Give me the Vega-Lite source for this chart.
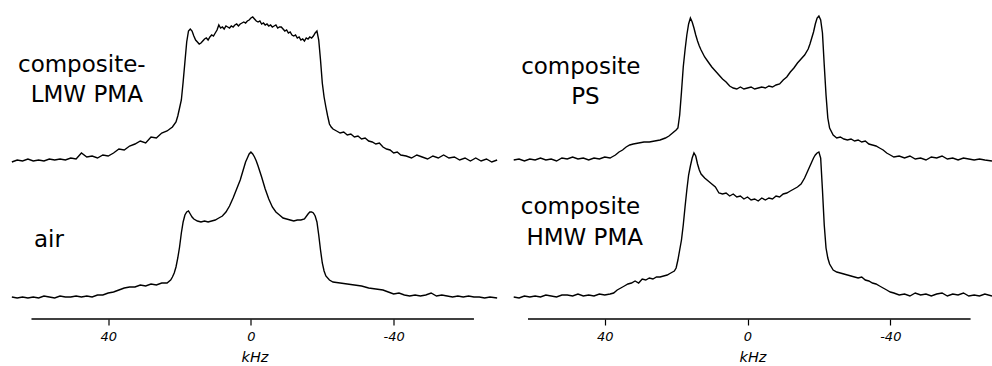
{
  "$schema": "https://vega.github.io/schema/vega-lite/v6.json",
  "padding": {"left": 8.5, "top": 0, "right": 0, "bottom": 0},
  "spacing": 9.5,
  "config": {
    "view": {"stroke": null},
    "axis": {
      "domain": false, "grid": false,
      "labelFont": "DejaVu Sans", "labelFontStyle": "italic", "labelFontSize": 13, "labelColor": "black",
      "labelPadding": 5, "tickColor": "black", "tickSize": 6, "tickWidth": 1.2,
      "titleFont": "DejaVu Sans", "titleFontStyle": "italic", "titleFontWeight": "normal", "titleFontSize": 14.5,
      "titleColor": "black", "titlePadding": 7
    }
  },
  "datasets": {
    "LT": [
      {"kHz":67,"intensity":157},{"kHz":65.5,"intensity":159},{"kHz":64,"intensity":158},{"kHz":62.5,"intensity":160},{"kHz":61,"intensity":158},{"kHz":59.5,"intensity":159},{"kHz":58,"intensity":158},{"kHz":56.5,"intensity":160},{"kHz":55,"intensity":159},{"kHz":53.5,"intensity":160},{"kHz":52,"intensity":159},{"kHz":50.5,"intensity":161},{"kHz":49,"intensity":160},{"kHz":47.5,"intensity":166},{"kHz":46,"intensity":162},{"kHz":44.5,"intensity":163},{"kHz":43,"intensity":161},{"kHz":41.5,"intensity":164},{"kHz":40,"intensity":163},{"kHz":38.5,"intensity":166},{"kHz":37,"intensity":170},{"kHz":35.5,"intensity":169},{"kHz":34,"intensity":173},{"kHz":32.5,"intensity":175},{"kHz":31,"intensity":178},{"kHz":29.5,"intensity":176},{"kHz":28,"intensity":182},{"kHz":26.5,"intensity":181},{"kHz":25,"intensity":186},{"kHz":23.5,"intensity":188},{"kHz":22,"intensity":192},{"kHz":21,"intensity":197},{"kHz":20.5,"intensity":203},{"kHz":20,"intensity":211},{"kHz":19.5,"intensity":219},{"kHz":19,"intensity":237},{"kHz":18.5,"intensity":257},{"kHz":18,"intensity":277},{"kHz":17.5,"intensity":288},{"kHz":17,"intensity":290},{"kHz":16.5,"intensity":288},{"kHz":16,"intensity":283},{"kHz":15.5,"intensity":279},{"kHz":15,"intensity":277},{"kHz":14.5,"intensity":275},{"kHz":14,"intensity":276},{"kHz":13.5,"intensity":278},{"kHz":13,"intensity":280},{"kHz":12.5,"intensity":281},{"kHz":12,"intensity":279},{"kHz":11.5,"intensity":282},{"kHz":11,"intensity":284},{"kHz":10.5,"intensity":283},{"kHz":10,"intensity":286},{"kHz":9.5,"intensity":289},{"kHz":9,"intensity":294},{"kHz":8.5,"intensity":291},{"kHz":8,"intensity":292},{"kHz":7.5,"intensity":290},{"kHz":7,"intensity":293},{"kHz":6.5,"intensity":292},{"kHz":6,"intensity":291},{"kHz":5.5,"intensity":293},{"kHz":5,"intensity":292},{"kHz":4.5,"intensity":294},{"kHz":4,"intensity":295},{"kHz":3.5,"intensity":293},{"kHz":3,"intensity":295},{"kHz":2.5,"intensity":296},{"kHz":2,"intensity":297},{"kHz":1.5,"intensity":296},{"kHz":1,"intensity":298},{"kHz":0.5,"intensity":299},{"kHz":0,"intensity":301},{"kHz":-0.5,"intensity":302},{"kHz":-1,"intensity":300},{"kHz":-1.5,"intensity":298},{"kHz":-2,"intensity":297},{"kHz":-2.5,"intensity":298},{"kHz":-3,"intensity":295},{"kHz":-3.5,"intensity":296},{"kHz":-4,"intensity":294},{"kHz":-4.5,"intensity":295},{"kHz":-5,"intensity":293},{"kHz":-5.5,"intensity":294},{"kHz":-6,"intensity":292},{"kHz":-6.5,"intensity":293},{"kHz":-7,"intensity":294},{"kHz":-7.5,"intensity":291},{"kHz":-8,"intensity":292},{"kHz":-8.5,"intensity":292},{"kHz":-9,"intensity":290},{"kHz":-9.5,"intensity":288},{"kHz":-10,"intensity":289},{"kHz":-10.5,"intensity":286},{"kHz":-11,"intensity":287},{"kHz":-11.5,"intensity":284},{"kHz":-12,"intensity":283},{"kHz":-12.5,"intensity":284},{"kHz":-13,"intensity":281},{"kHz":-13.5,"intensity":282},{"kHz":-14,"intensity":279},{"kHz":-14.5,"intensity":280},{"kHz":-15,"intensity":278},{"kHz":-15.5,"intensity":281},{"kHz":-16,"intensity":280},{"kHz":-16.5,"intensity":282},{"kHz":-17,"intensity":281},{"kHz":-17.5,"intensity":283},{"kHz":-18,"intensity":286},{"kHz":-18.5,"intensity":288},{"kHz":-19,"intensity":279},{"kHz":-19.5,"intensity":259},{"kHz":-20,"intensity":236},{"kHz":-20.5,"intensity":222},{"kHz":-21,"intensity":212},{"kHz":-21.5,"intensity":203},{"kHz":-22,"intensity":195},{"kHz":-22.5,"intensity":192},{"kHz":-23,"intensity":190},{"kHz":-24,"intensity":188},{"kHz":-25,"intensity":186},{"kHz":-26,"intensity":187},{"kHz":-27,"intensity":184},{"kHz":-28,"intensity":185},{"kHz":-29,"intensity":182},{"kHz":-30,"intensity":183},{"kHz":-31,"intensity":180},{"kHz":-32,"intensity":181},{"kHz":-33,"intensity":178},{"kHz":-34,"intensity":177},{"kHz":-35,"intensity":175},{"kHz":-36,"intensity":176},{"kHz":-37,"intensity":172},{"kHz":-38,"intensity":170},{"kHz":-39,"intensity":169},{"kHz":-40,"intensity":166},{"kHz":-41,"intensity":167},{"kHz":-42,"intensity":164},{"kHz":-43.5,"intensity":163},{"kHz":-45,"intensity":161},{"kHz":-46.5,"intensity":164},{"kHz":-48,"intensity":162},{"kHz":-49.5,"intensity":160},{"kHz":-51,"intensity":163},{"kHz":-52.5,"intensity":161},{"kHz":-54,"intensity":164},{"kHz":-55.5,"intensity":161},{"kHz":-57,"intensity":162},{"kHz":-58.5,"intensity":159},{"kHz":-60,"intensity":161},{"kHz":-61.5,"intensity":158},{"kHz":-63,"intensity":161},{"kHz":-64.5,"intensity":158},{"kHz":-66,"intensity":160},{"kHz":-67.5,"intensity":157},{"kHz":-69,"intensity":159}
    ],
    "LB": [
      {"kHz":67,"intensity":22},{"kHz":65.5,"intensity":21},{"kHz":64,"intensity":22},{"kHz":62.5,"intensity":21},{"kHz":61,"intensity":22},{"kHz":59.5,"intensity":21},{"kHz":58,"intensity":23},{"kHz":56.5,"intensity":22},{"kHz":55,"intensity":21},{"kHz":53.5,"intensity":23},{"kHz":52,"intensity":22},{"kHz":50.5,"intensity":22},{"kHz":49,"intensity":23},{"kHz":47.5,"intensity":22},{"kHz":46,"intensity":23},{"kHz":44.5,"intensity":22},{"kHz":43,"intensity":24},{"kHz":41.5,"intensity":24},{"kHz":40,"intensity":26},{"kHz":38.5,"intensity":27},{"kHz":37,"intensity":29},{"kHz":35.5,"intensity":31},{"kHz":34,"intensity":32},{"kHz":32.5,"intensity":32},{"kHz":31,"intensity":34},{"kHz":29.5,"intensity":33},{"kHz":28,"intensity":35},{"kHz":26.5,"intensity":34},{"kHz":25,"intensity":36},{"kHz":23.5,"intensity":36},{"kHz":22.5,"intensity":39},{"kHz":22,"intensity":42},{"kHz":21.5,"intensity":46},{"kHz":21,"intensity":52},{"kHz":20.5,"intensity":61},{"kHz":20,"intensity":72},{"kHz":19.5,"intensity":86},{"kHz":19,"intensity":97},{"kHz":18.5,"intensity":104},{"kHz":18,"intensity":107},{"kHz":17.5,"intensity":108},{"kHz":17,"intensity":105},{"kHz":16.5,"intensity":102},{"kHz":16,"intensity":100},{"kHz":15,"intensity":98},{"kHz":14,"intensity":97},{"kHz":13,"intensity":98},{"kHz":12,"intensity":97},{"kHz":11,"intensity":98},{"kHz":10,"intensity":99},{"kHz":9,"intensity":101},{"kHz":8,"intensity":103},{"kHz":7,"intensity":107},{"kHz":6,"intensity":113},{"kHz":5,"intensity":121},{"kHz":4,"intensity":130},{"kHz":3,"intensity":139},{"kHz":2,"intensity":151},{"kHz":1.5,"intensity":157},{"kHz":1,"intensity":161},{"kHz":0.5,"intensity":165},{"kHz":0,"intensity":167},{"kHz":-0.5,"intensity":165},{"kHz":-1,"intensity":162},{"kHz":-1.5,"intensity":158},{"kHz":-2,"intensity":153},{"kHz":-3,"intensity":142},{"kHz":-4,"intensity":130},{"kHz":-5,"intensity":120},{"kHz":-6,"intensity":112},{"kHz":-7,"intensity":107},{"kHz":-8,"intensity":104},{"kHz":-9,"intensity":101},{"kHz":-10,"intensity":100},{"kHz":-11,"intensity":99},{"kHz":-12,"intensity":98},{"kHz":-13,"intensity":99},{"kHz":-14,"intensity":99},{"kHz":-15,"intensity":100},{"kHz":-16,"intensity":105},{"kHz":-16.5,"intensity":107},{"kHz":-17,"intensity":107},{"kHz":-17.5,"intensity":106},{"kHz":-18,"intensity":103},{"kHz":-18.5,"intensity":97},{"kHz":-19,"intensity":84},{"kHz":-19.5,"intensity":69},{"kHz":-20,"intensity":56},{"kHz":-20.5,"intensity":48},{"kHz":-21,"intensity":43},{"kHz":-22,"intensity":39},{"kHz":-23,"intensity":37},{"kHz":-25,"intensity":36},{"kHz":-27,"intensity":35},{"kHz":-29,"intensity":34},{"kHz":-31,"intensity":33},{"kHz":-33,"intensity":31},{"kHz":-35,"intensity":30},{"kHz":-37,"intensity":29},{"kHz":-38.5,"intensity":27},{"kHz":-40,"intensity":25},{"kHz":-41.5,"intensity":26},{"kHz":-43,"intensity":24},{"kHz":-44.5,"intensity":23},{"kHz":-46,"intensity":24},{"kHz":-47.5,"intensity":23},{"kHz":-49,"intensity":24},{"kHz":-50.5,"intensity":26},{"kHz":-52,"intensity":23},{"kHz":-53.5,"intensity":24},{"kHz":-55,"intensity":23},{"kHz":-56.5,"intensity":22},{"kHz":-58,"intensity":23},{"kHz":-59.5,"intensity":22},{"kHz":-61,"intensity":23},{"kHz":-62.5,"intensity":22},{"kHz":-64,"intensity":22},{"kHz":-65.5,"intensity":21},{"kHz":-67,"intensity":22},{"kHz":-69,"intensity":21}
    ],
    "RT": [
      {"kHz":65.5,"intensity":159},{"kHz":64,"intensity":160},{"kHz":62.5,"intensity":158},{"kHz":61,"intensity":160},{"kHz":59.5,"intensity":159},{"kHz":58,"intensity":161},{"kHz":56.5,"intensity":159},{"kHz":55,"intensity":160},{"kHz":53.5,"intensity":158},{"kHz":52,"intensity":161},{"kHz":50.5,"intensity":160},{"kHz":49,"intensity":162},{"kHz":47.5,"intensity":160},{"kHz":46,"intensity":161},{"kHz":44.5,"intensity":159},{"kHz":43,"intensity":161},{"kHz":41.5,"intensity":160},{"kHz":40,"intensity":162},{"kHz":38.5,"intensity":161},{"kHz":38,"intensity":162},{"kHz":37,"intensity":164},{"kHz":36,"intensity":167},{"kHz":35,"intensity":169},{"kHz":34,"intensity":172},{"kHz":33,"intensity":174},{"kHz":32,"intensity":175},{"kHz":30.5,"intensity":176},{"kHz":29,"intensity":177},{"kHz":27.5,"intensity":177},{"kHz":26,"intensity":178},{"kHz":24.5,"intensity":179},{"kHz":23,"intensity":181},{"kHz":22,"intensity":183},{"kHz":21,"intensity":186},{"kHz":20,"intensity":189},{"kHz":19.5,"intensity":191},{"kHz":19,"intensity":204},{"kHz":18.5,"intensity":227},{"kHz":18,"intensity":252},{"kHz":17.5,"intensity":269},{"kHz":17,"intensity":284},{"kHz":16.5,"intensity":295},{"kHz":16,"intensity":301},{"kHz":15.5,"intensity":297},{"kHz":15,"intensity":291},{"kHz":14.5,"intensity":284},{"kHz":14,"intensity":278},{"kHz":13.5,"intensity":273},{"kHz":13,"intensity":269},{"kHz":12,"intensity":262},{"kHz":11,"intensity":257},{"kHz":10,"intensity":252},{"kHz":9,"intensity":248},{"kHz":8,"intensity":244},{"kHz":7,"intensity":240},{"kHz":6,"intensity":237},{"kHz":5,"intensity":233},{"kHz":4,"intensity":231},{"kHz":3,"intensity":230},{"kHz":2,"intensity":232},{"kHz":1,"intensity":230},{"kHz":0,"intensity":231},{"kHz":-1,"intensity":232},{"kHz":-2,"intensity":230},{"kHz":-3,"intensity":231},{"kHz":-4,"intensity":232},{"kHz":-5,"intensity":231},{"kHz":-6,"intensity":233},{"kHz":-7,"intensity":232},{"kHz":-8,"intensity":234},{"kHz":-9,"intensity":235},{"kHz":-10,"intensity":239},{"kHz":-11,"intensity":242},{"kHz":-12,"intensity":247},{"kHz":-13,"intensity":251},{"kHz":-14,"intensity":256},{"kHz":-15,"intensity":260},{"kHz":-16,"intensity":264},{"kHz":-17,"intensity":270},{"kHz":-17.5,"intensity":275},{"kHz":-18,"intensity":281},{"kHz":-18.5,"intensity":287},{"kHz":-19,"intensity":295},{"kHz":-19.5,"intensity":301},{"kHz":-20,"intensity":303},{"kHz":-20.5,"intensity":299},{"kHz":-21,"intensity":286},{"kHz":-21.5,"intensity":254},{"kHz":-22,"intensity":224},{"kHz":-22.5,"intensity":201},{"kHz":-23,"intensity":191},{"kHz":-24,"intensity":184},{"kHz":-25,"intensity":181},{"kHz":-26,"intensity":182},{"kHz":-27,"intensity":180},{"kHz":-28,"intensity":179},{"kHz":-29,"intensity":180},{"kHz":-30,"intensity":178},{"kHz":-31,"intensity":179},{"kHz":-32,"intensity":177},{"kHz":-33,"intensity":178},{"kHz":-34,"intensity":175},{"kHz":-35,"intensity":174},{"kHz":-36,"intensity":173},{"kHz":-37,"intensity":171},{"kHz":-38,"intensity":169},{"kHz":-39,"intensity":166},{"kHz":-40,"intensity":164},{"kHz":-41,"intensity":162},{"kHz":-42.5,"intensity":163},{"kHz":-44,"intensity":161},{"kHz":-45.5,"intensity":163},{"kHz":-47,"intensity":160},{"kHz":-48.5,"intensity":161},{"kHz":-50,"intensity":159},{"kHz":-51.5,"intensity":162},{"kHz":-53,"intensity":161},{"kHz":-54.5,"intensity":163},{"kHz":-56,"intensity":160},{"kHz":-57.5,"intensity":161},{"kHz":-59,"intensity":159},{"kHz":-60.5,"intensity":161},{"kHz":-62,"intensity":160},{"kHz":-63.5,"intensity":159},{"kHz":-65,"intensity":160},{"kHz":-66.5,"intensity":159},{"kHz":-68.5,"intensity":158}
    ],
    "RB": [
      {"kHz":65.5,"intensity":22},{"kHz":64,"intensity":21},{"kHz":62.5,"intensity":23},{"kHz":61,"intensity":22},{"kHz":59.5,"intensity":23},{"kHz":58,"intensity":22},{"kHz":56.5,"intensity":24},{"kHz":55,"intensity":23},{"kHz":53.5,"intensity":22},{"kHz":52,"intensity":24},{"kHz":50.5,"intensity":24},{"kHz":49,"intensity":23},{"kHz":47.5,"intensity":25},{"kHz":46,"intensity":23},{"kHz":44.5,"intensity":24},{"kHz":43,"intensity":23},{"kHz":41.5,"intensity":25},{"kHz":40,"intensity":24},{"kHz":38.5,"intensity":25},{"kHz":37.5,"intensity":26},{"kHz":36.5,"intensity":29},{"kHz":35.5,"intensity":31},{"kHz":34.5,"intensity":33},{"kHz":33.5,"intensity":35},{"kHz":32.5,"intensity":36},{"kHz":31.5,"intensity":38},{"kHz":30.5,"intensity":36},{"kHz":29.5,"intensity":40},{"kHz":28.5,"intensity":39},{"kHz":27.5,"intensity":41},{"kHz":26.5,"intensity":40},{"kHz":25.5,"intensity":42},{"kHz":24.5,"intensity":42},{"kHz":23.5,"intensity":43},{"kHz":22.5,"intensity":44},{"kHz":21.5,"intensity":46},{"kHz":20.5,"intensity":48},{"kHz":20,"intensity":51},{"kHz":19.5,"intensity":59},{"kHz":19,"intensity":69},{"kHz":18.5,"intensity":79},{"kHz":18,"intensity":94},{"kHz":17.5,"intensity":112},{"kHz":17,"intensity":129},{"kHz":16.5,"intensity":144},{"kHz":16,"intensity":153},{"kHz":15.5,"intensity":161},{"kHz":15,"intensity":166},{"kHz":14.5,"intensity":163},{"kHz":14,"intensity":155},{"kHz":13.5,"intensity":149},{"kHz":13,"intensity":145},{"kHz":12,"intensity":141},{"kHz":11,"intensity":138},{"kHz":10,"intensity":135},{"kHz":9,"intensity":132},{"kHz":8,"intensity":126},{"kHz":7,"intensity":125},{"kHz":6,"intensity":126},{"kHz":5,"intensity":123},{"kHz":4,"intensity":125},{"kHz":3,"intensity":122},{"kHz":2,"intensity":123},{"kHz":1,"intensity":120},{"kHz":0,"intensity":122},{"kHz":-1,"intensity":119},{"kHz":-2,"intensity":120},{"kHz":-3,"intensity":118},{"kHz":-4,"intensity":121},{"kHz":-5,"intensity":119},{"kHz":-6,"intensity":121},{"kHz":-7,"intensity":120},{"kHz":-8,"intensity":123},{"kHz":-9,"intensity":122},{"kHz":-10,"intensity":125},{"kHz":-11,"intensity":126},{"kHz":-12,"intensity":128},{"kHz":-13,"intensity":130},{"kHz":-14,"intensity":132},{"kHz":-15,"intensity":135},{"kHz":-16,"intensity":141},{"kHz":-17,"intensity":149},{"kHz":-18,"intensity":157},{"kHz":-18.5,"intensity":161},{"kHz":-19,"intensity":164},{"kHz":-19.5,"intensity":166},{"kHz":-20,"intensity":167},{"kHz":-20.5,"intensity":161},{"kHz":-21,"intensity":129},{"kHz":-21.5,"intensity":94},{"kHz":-22,"intensity":71},{"kHz":-22.5,"intensity":61},{"kHz":-23,"intensity":55},{"kHz":-24,"intensity":49},{"kHz":-25,"intensity":47},{"kHz":-26,"intensity":46},{"kHz":-27,"intensity":45},{"kHz":-28,"intensity":44},{"kHz":-29,"intensity":43},{"kHz":-30,"intensity":42},{"kHz":-31,"intensity":41},{"kHz":-32,"intensity":42},{"kHz":-33,"intensity":39},{"kHz":-34,"intensity":38},{"kHz":-35,"intensity":36},{"kHz":-36,"intensity":35},{"kHz":-37,"intensity":33},{"kHz":-38,"intensity":31},{"kHz":-39,"intensity":29},{"kHz":-40,"intensity":27},{"kHz":-41,"intensity":26},{"kHz":-42.5,"intensity":24},{"kHz":-44,"intensity":25},{"kHz":-45.5,"intensity":23},{"kHz":-47,"intensity":26},{"kHz":-48.5,"intensity":24},{"kHz":-50,"intensity":25},{"kHz":-51.5,"intensity":23},{"kHz":-53,"intensity":25},{"kHz":-54.5,"intensity":26},{"kHz":-56,"intensity":23},{"kHz":-57.5,"intensity":25},{"kHz":-59,"intensity":24},{"kHz":-60.5,"intensity":26},{"kHz":-62,"intensity":23},{"kHz":-63.5,"intensity":24},{"kHz":-65,"intensity":23},{"kHz":-66.5,"intensity":25},{"kHz":-68.5,"intensity":23}
    ],
    "labelsL": [
      {"label":"composite-","kHz":47.4,"intensity":247},
      {"label":"LMW PMA","kHz":46.0,"intensity":217},
      {"label":"air","kHz":56.6,"intensity":72}
    ],
    "labelsR": [
      {"label":"composite","kHz":46.7,"intensity":245},
      {"label":"PS","kHz":45.4,"intensity":215},
      {"label":"composite","kHz":46.8,"intensity":105},
      {"label":"HMW PMA","kHz":45.6,"intensity":74}
    ],
    "axisline": [{"kHz":61.5,"kHz2":-62.5,"intensity":0}]
  },
  "hconcat": [
    {
      "width": 486, "height": 319,
      "encoding": {
        "x": {"field":"kHz","type":"quantitative","scale":{"domain":[67.1,-69.1],"nice":false,"zero":false},
              "axis":{"values":[40,0,-40],"title":"kHz","labelExpr":"'' + datum.value"}},
        "y": {"field":"intensity","type":"quantitative","scale":{"domain":[0,319],"nice":false,"zero":false},"axis":null}
      },
      "layer": [
        {"data":{"name":"LT"},"mark":{"type":"line","color":"black","strokeWidth":1.4},"encoding":{}},
        {"data":{"name":"LB"},"mark":{"type":"line","color":"black","strokeWidth":1.4},"encoding":{}},
        {"data":{"name":"labelsL"},"mark":{"type":"text","font":"DejaVu Sans","fontSize":23,"baseline":"alphabetic","align":"center","color":"black"},"encoding":{"text":{"field":"label"}}},
        {"data":{"name":"axisline"},"mark":{"type":"rule","color":"black","strokeWidth":1.5},"encoding":{"x2":{"field":"kHz2"}}}
      ]
    },
    {
      "width": 479, "height": 319,
      "encoding": {
        "x": {"field":"kHz","type":"quantitative","scale":{"domain":[65.7,-68.5],"nice":false,"zero":false},
              "axis":{"values":[40,0,-40],"title":"kHz","labelExpr":"'' + datum.value"}},
        "y": {"field":"intensity","type":"quantitative","scale":{"domain":[0,319],"nice":false,"zero":false},"axis":null}
      },
      "layer": [
        {"data":{"name":"RT"},"mark":{"type":"line","color":"black","strokeWidth":1.4},"encoding":{}},
        {"data":{"name":"RB"},"mark":{"type":"line","color":"black","strokeWidth":1.4},"encoding":{}},
        {"data":{"name":"labelsR"},"mark":{"type":"text","font":"DejaVu Sans","fontSize":23,"baseline":"alphabetic","align":"center","color":"black"},"encoding":{"text":{"field":"label"}}},
        {"data":{"name":"axisline"},"mark":{"type":"rule","color":"black","strokeWidth":1.5},"encoding":{"x2":{"field":"kHz2"}}}
      ]
    }
  ]
}
